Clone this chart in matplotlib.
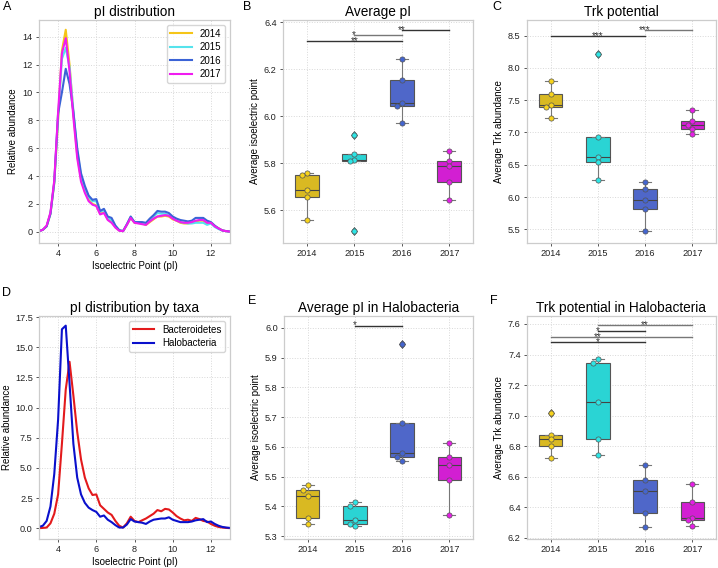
import numpy as np
import matplotlib
matplotlib.use("Agg")
import matplotlib.pyplot as plt

plt.rcParams['font.family'] = ['Liberation Sans', 'DejaVu Sans']

years = ['2014', '2015', '2016', '2017']

# pI distributions (x step 0.2 from 3 to 13)
pi_x = np.round(np.arange(3.0, 13.01, 0.2), 1)
dist_2014 = [0.05, 0.15, 0.4, 1.3, 3.5, 8.0, 13.0, 14.5, 12.0, 8.5, 5.5, 3.8, 2.9, 2.3, 2.0,
             1.9, 1.3, 1.4, 0.9, 0.7, 0.35, 0.1, 0.05, 0.5, 1.0, 0.65, 0.65, 0.6, 0.5, 0.7,
             0.9, 1.1, 1.1, 1.15, 1.1, 0.9, 0.8, 0.65, 0.6, 0.6, 0.65, 0.75, 0.8, 0.8, 0.6,
             0.65, 0.4, 0.25, 0.1, 0.05, 0.02]
dist_2015 = [0.05, 0.15, 0.4, 1.3, 3.5, 8.2, 12.4, 13.2, 11.8, 8.7, 5.8, 4.0, 3.1, 2.5, 2.2,
             2.2, 1.45, 1.55, 1.0, 0.85, 0.4, 0.12, 0.05, 0.5, 1.05, 0.7, 0.7, 0.65, 0.6, 0.85,
             1.1, 1.35, 1.3, 1.3, 1.2, 1.0, 0.85, 0.7, 0.65, 0.6, 0.6, 0.65, 0.65, 0.65, 0.5,
             0.6, 0.35, 0.2, 0.1, 0.05, 0.02]
dist_2016 = [0.05, 0.15, 0.4, 1.3, 3.6, 8.5, 10.0, 11.7, 10.6, 8.6, 6.0, 4.2, 3.3, 2.6, 2.3,
             2.35, 1.5, 1.65, 1.1, 1.0, 0.45, 0.12, 0.05, 0.55, 1.1, 0.7, 0.7, 0.7, 0.65, 0.95,
             1.2, 1.5, 1.45, 1.45, 1.35, 1.1, 0.95, 0.85, 0.8, 0.75, 0.8, 1.0, 1.0, 1.0, 0.8,
             0.7, 0.45, 0.25, 0.1, 0.05, 0.02]
dist_2017 = [0.05, 0.15, 0.45, 1.4, 3.7, 8.6, 12.8, 13.9, 11.5, 8.2, 5.3, 3.6, 2.8, 2.2, 1.95,
             1.85, 1.25, 1.35, 0.85, 0.65, 0.3, 0.08, 0.05, 0.5, 1.0, 0.65, 0.6, 0.55, 0.5, 0.75,
             0.95, 1.1, 1.15, 1.2, 1.15, 0.95, 0.8, 0.7, 0.65, 0.65, 0.7, 0.8, 0.85, 0.85, 0.65,
             0.65, 0.4, 0.25, 0.1, 0.05, 0.02]

taxa = ['Bacteroidetes', 'Halobacteria']
dist_bact = [0.0, 0.02, 0.05, 0.4, 1.2, 2.8, 7.0, 11.5, 13.8, 11.0, 8.0, 5.7, 4.2, 3.3, 2.75,
             2.8, 1.9, 1.6, 1.3, 1.1, 0.6, 0.2, 0.05, 0.4, 0.95, 0.6, 0.5, 0.65, 0.8, 1.0,
             1.2, 1.5, 1.4, 1.6, 1.55, 1.3, 1.0, 0.8, 0.65, 0.7, 0.6, 0.85, 0.75, 0.6, 0.55,
             0.35, 0.2, 0.1, 0.05, 0.02, 0.0]
dist_halo = [0.1, 0.2, 0.6, 1.8, 4.5, 9.0, 16.5, 16.8, 12.0, 7.0, 4.2, 2.8, 2.1, 1.7, 1.5,
             1.35, 0.95, 1.05, 0.7, 0.5, 0.25, 0.05, 0.05, 0.3, 0.75, 0.55, 0.5, 0.45, 0.35, 0.55,
             0.7, 0.75, 0.8, 0.8, 0.9, 0.7, 0.6, 0.5, 0.5, 0.5, 0.55, 0.65, 0.7, 0.75, 0.5,
             0.55, 0.35, 0.2, 0.1, 0.05, 0.02]

# per-sample averages
avg_pi = [[5.76, 5.75, 5.685, 5.655, 5.56],
          [5.92, 5.84, 5.815, 5.81, 5.51],
          [6.245, 6.155, 6.055, 6.045, 5.97],
          [5.85, 5.81, 5.79, 5.72, 5.645]]
avg_trk = [[7.79, 7.60, 7.42, 7.39, 7.22],
           [8.22, 6.93, 6.62, 6.55, 6.27],
           [6.23, 6.12, 5.96, 5.81, 5.47],
           [7.35, 7.18, 7.12, 7.05, 6.97]]
halo_pi = [[5.47, 5.455, 5.435, 5.36, 5.34],
           [5.415, 5.40, 5.355, 5.34, 5.335],
           [5.945, 5.68, 5.578, 5.565, 5.553],
           [5.612, 5.567, 5.54, 5.487, 5.37]]
halo_trk = [[7.02, 6.875, 6.845, 6.80, 6.72],
            [7.37, 7.345, 7.09, 6.845, 6.74],
            [6.68, 6.58, 6.51, 6.36, 6.27],
            [6.55, 6.435, 6.33, 6.32, 6.275]]

# significance brackets: (group i, group j, y, stars)
sig_b = [(0, 2, 6.32, '**'), (1, 2, 6.345, '*'), (2, 3, 6.368, '**')]
sig_c = [(0, 2, 8.49, '***'), (2, 3, 8.59, '***')]
sig_e = [(1, 2, 6.008, '*')]
sig_f = [(0, 2, 7.48, '*'), (0, 3, 7.515, '**'), (1, 2, 7.553, '*'), (1, 3, 7.59, '**')]

line_colors = ['#f5c518', '#55e3ec', '#3b63d6', '#f01cf0']
pt_colors = ['#f7d31c', '#2ee6e6', '#4465cf', '#e61ee6']
box_colors = ['#d9b922', '#2ad4d4', '#4f67c9', '#d21fd2']
taxa_colors = ['#e31a1c', '#0a10cc']

TICK = 6.6
LAB = 7.0
TTL = 9.8


def style_axes(ax):
    for s in ax.spines.values():
        s.set_color('#cccccc')
        s.set_linewidth(0.9)
    ax.grid(True, color='#d8d8d8', linestyle=':', linewidth=0.7)
    ax.set_axisbelow(True)
    ax.tick_params(length=2.5, width=0.7, color='#555555', labelsize=TICK, labelcolor='#222222', pad=2)


def swarm_x(ax, i, vals, size_px=4.5):
    placed = []
    xs = []
    for v in vals:
        for off in [0, -0.1, 0.1, -0.2, 0.2]:
            p = ax.transData.transform((i + off, v))
            if all(np.hypot(*(p - q)) >= size_px for q in placed):
                break
        placed.append(p)
        xs.append(i + off)
    return xs


def box_panel(ax, data, ylim, sigs, title, ylabel, yticks):
    style_axes(ax)
    ax.set_xlim(-0.5, 3.5)
    ax.set_ylim(*ylim)
    for i, vals in enumerate(data):
        ax.boxplot([vals], positions=[i], widths=0.5, patch_artist=True,
                   boxprops=dict(facecolor=box_colors[i], edgecolor='#555555', linewidth=0.8),
                   medianprops=dict(color='#444444', linewidth=0.8),
                   whiskerprops=dict(color='#777777', linewidth=0.8),
                   capprops=dict(color='#777777', linewidth=0.8),
                   flierprops=dict(marker='d', markerfacecolor=pt_colors[i],
                                   markeredgecolor='#444444', markersize=4.5, markeredgewidth=0.5),
                   zorder=2)
        xs = swarm_x(ax, i, vals)
        ax.scatter(xs, vals, s=14, color=pt_colors[i], edgecolor='#555555', linewidth=0.5, zorder=3)
    for k, (a, b, y, txt) in enumerate(sigs):
        c = '#333333' if k % 2 == 0 else '#777777'
        ax.plot([a, b], [y, y], color=c, linewidth=1.0, zorder=4)
        ax.text((a + b) // 2, y, txt, ha='center', va='center', fontsize=7, color='#333333')
    ax.set_xticks(range(4))
    ax.set_xticklabels(years)
    ax.set_yticks(yticks)
    ax.set_title(title, fontsize=TTL, pad=3)
    ax.set_ylabel(ylabel, fontsize=LAB, labelpad=3)


fig = plt.figure(figsize=(7.18, 5.68), dpi=100)
W, H = 718.0, 568.0


def add_ax(x0, x1, y0, y1):
    return fig.add_axes([x0 / W, 1 - y1 / H, (x1 - x0) / W, (y1 - y0) / H])


axA = add_ax(39, 230, 20, 243)
axB = add_ax(283, 473, 20, 243)
axC = add_ax(527, 716, 20, 243)
axD = add_ax(39, 230, 316, 539)
axE = add_ax(284, 473, 316, 539)
axF = add_ax(527, 716, 316, 539)

# A
style_axes(axA)
for yr, d, c in zip(years, [dist_2014, dist_2015, dist_2016, dist_2017], line_colors):
    axA.plot(pi_x, d, color=c, linewidth=1.5, label=yr)
axA.set_xlim(3, 13)
axA.set_ylim(-0.8, 15.2)
axA.set_xticks([4, 6, 8, 10, 12])
axA.set_yticks(range(0, 15, 2))
axA.set_title('pI distribution', fontsize=TTL, pad=3)
axA.set_xlabel('Isoelectric Point (pI)', fontsize=LAB, labelpad=2)
axA.set_ylabel('Relative abundance', fontsize=LAB, labelpad=3)
axA.legend(loc='upper right', fontsize=7, handlelength=2.2, edgecolor='#cccccc', fancybox=True,
           borderaxespad=0.5, labelspacing=0.35)

# D
style_axes(axD)
for t, d, c in zip(taxa, [dist_bact, dist_halo], taxa_colors):
    axD.plot(pi_x, d, color=c, linewidth=1.5, label=t)
axD.set_xlim(3, 13)
axD.set_ylim(-0.9, 17.6)
axD.set_xticks([4, 6, 8, 10, 12])
axD.set_yticks(np.arange(0, 17.6, 2.5))
axD.set_title('pI distribution by taxa', fontsize=TTL, pad=3)
axD.set_xlabel('Isoelectric Point (pI)', fontsize=LAB, labelpad=2)
axD.set_ylabel('Relative abundance', fontsize=LAB, labelpad=2)
axD.legend(loc='upper right', fontsize=7, handlelength=2.2, edgecolor='#cccccc', fancybox=True,
           borderaxespad=0.5, labelspacing=0.35)

box_panel(axB, avg_pi, (5.46, 6.41), sig_b, 'Average pI', 'Average isoelectric point',
          [5.6, 5.8, 6.0, 6.2, 6.4])
axB.yaxis.set_major_formatter(matplotlib.ticker.FormatStrFormatter('%.1f'))
box_panel(axC, avg_trk, (5.29, 8.74), sig_c, 'Trk potential', 'Average Trk abundance',
          [5.5, 6.0, 6.5, 7.0, 7.5, 8.0, 8.5])
box_panel(axE, halo_pi, (5.29, 6.04), sig_e, 'Average pI in Halobacteria', 'Average isoelectric point',
          [5.3, 5.4, 5.5, 5.6, 5.7, 5.8, 5.9, 6.0])
box_panel(axF, halo_trk, (6.193, 7.652), sig_f, 'Trk potential in Halobacteria', 'Average Trk abundance',
          [6.2, 6.4, 6.6, 6.8, 7.0, 7.2, 7.4, 7.6])

for lbl, (x, y) in zip('ABCDEF', [(3, 1), (243, 1), (492, 1), (2, 287), (248, 295), (490, 295)]):
    fig.text(x / W, 1 - y / H, lbl, fontsize=9, va='top', ha='left')

fig.savefig('out.png', dpi=100)
